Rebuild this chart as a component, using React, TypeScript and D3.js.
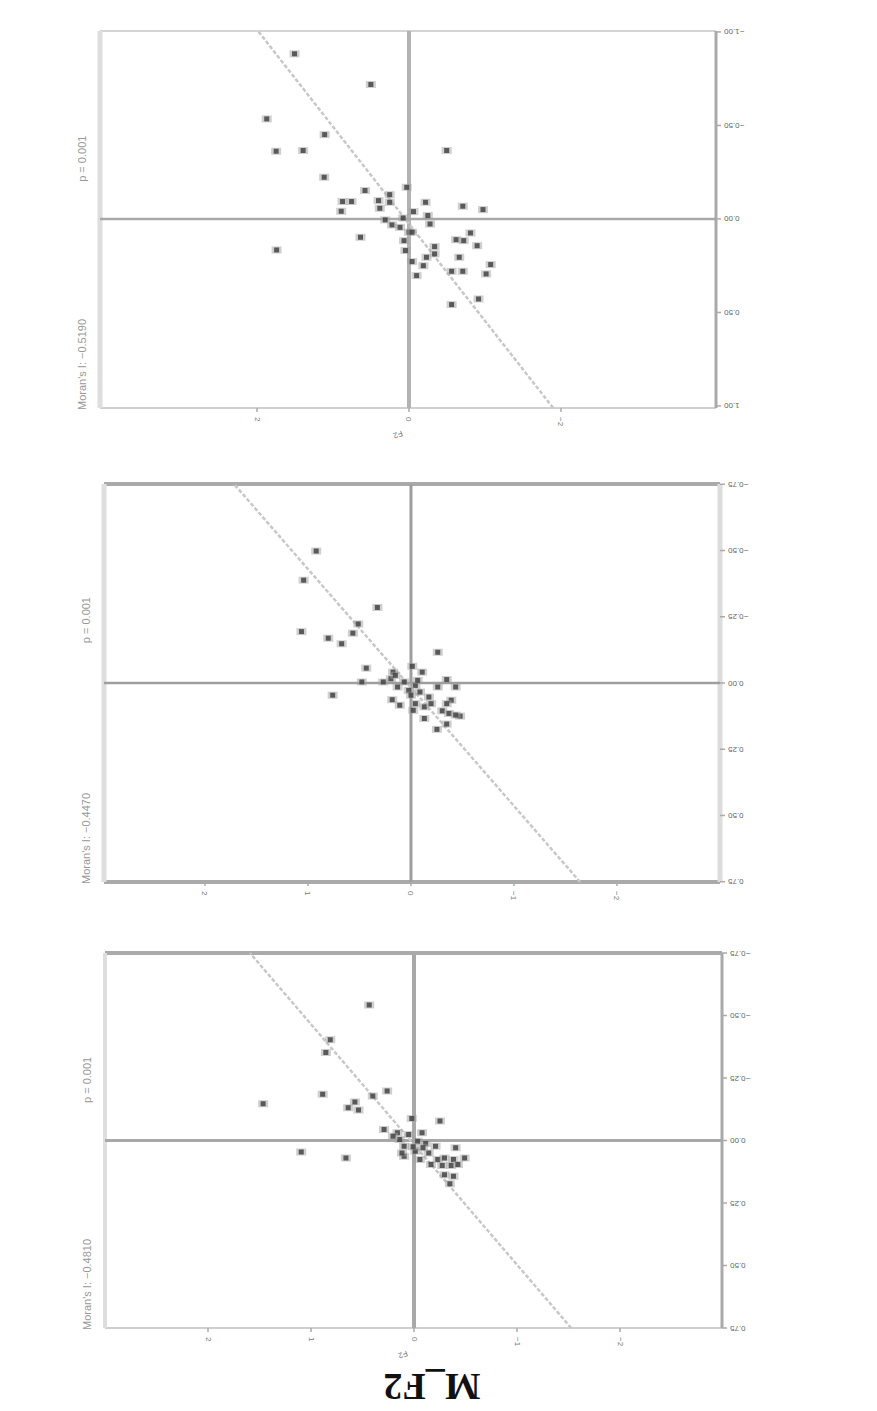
import React from 'react';
import * as d3 from 'd3';

const W = 877;
const H = 1411;

// chart title (the whole figure is printed upside down)
const title = 'M_F2';
const xAxisName = 'F2';

// panel 1: standardized value (x) and spatial lag (y)
const p1X = [1.506, 0.502, 1.872, 1.11, 1.748, 1.393, -0.496, 1.116, 0.579, 0.03, 0.254, 0.874, 0.756, 0.892, 0.401, 0.254, 0.384, -0.218, -0.708, -0.974, -0.059, -0.248, 0.077, 0.313, 0.224, 0.118, -0.277, 0.0, -0.041, 0.638, 0.065, -0.62, -0.809, 1.742, 0.047, -0.337, -0.897, -0.661, -0.23, -1.075, -0.041, -0.561, -0.708, -1.015, -0.1, -0.561, -0.915, -0.72, -0.189, -0.337];
const p1Y = [-0.883, -0.719, -0.535, -0.451, -0.362, -0.366, -0.366, -0.223, -0.152, -0.169, -0.13, -0.093, -0.093, -0.041, -0.098, -0.089, -0.057, -0.089, -0.068, -0.05, -0.039, -0.018, -0.005, 0.005, 0.032, 0.045, 0.027, 0.071, 0.071, 0.098, 0.116, 0.111, 0.075, 0.166, 0.169, 0.148, 0.143, 0.205, 0.205, 0.244, 0.228, 0.28, 0.28, 0.294, 0.303, 0.458, 0.428, 0.116, 0.25, 0.187];

// panel 2
const p2X = [0.92, 1.042, 0.326, 0.512, 0.564, 1.063, 0.803, 0.673, -0.26, 0.434, -0.013, 0.174, -0.109, 0.477, 0.269, 0.195, 0.065, -0.043, -0.347, -0.434, -0.26, 0.76, 0.022, -0.087, -0.174, 0.182, -0.043, 0.109, -0.13, -0.391, -0.304, -0.369, -0.477, -0.13, -0.347, -0.252, 0.13, 0.0, -0.195, -0.347, -0.022, 0.152, -0.065, -0.434];
const p2Y = [-0.498, -0.388, -0.285, -0.223, -0.188, -0.194, -0.169, -0.148, -0.116, -0.056, -0.063, -0.041, -0.041, -0.004, -0.004, -0.016, -0.004, 0.009, -0.013, 0.015, 0.015, 0.046, 0.028, 0.034, 0.053, 0.063, 0.078, 0.084, 0.09, 0.065, 0.105, 0.115, 0.125, 0.134, 0.155, 0.175, 0.015, 0.046, 0.078, 0.078, 0.103, -0.029, -0.01, 0.121];

// panel 3
const p3X = [0.435, 0.813, 0.856, 0.261, 0.887, 0.4, 0.574, 1.465, 0.639, 0.539, -0.252, 0.022, 0.291, 0.161, 0.052, -0.078, 0.139, -0.035, -0.113, 0.096, 1.095, -0.404, -0.491, 0.661, -0.013, -0.143, 0.096, -0.23, -0.296, -0.383, -0.165, -0.274, -0.361, -0.426, -0.296, -0.383, -0.348, -0.087, 0.009, -0.209, 0.204, 0.117, -0.057];
const p3Y = [-0.542, -0.403, -0.352, -0.198, -0.185, -0.178, -0.154, -0.147, -0.131, -0.122, -0.078, -0.088, -0.044, -0.031, -0.024, -0.031, -0.004, 0.003, 0.012, 0.023, 0.046, 0.029, 0.07, 0.07, 0.043, 0.05, 0.063, 0.076, 0.07, 0.076, 0.096, 0.1, 0.1, 0.096, 0.137, 0.143, 0.173, 0.029, 0.025, 0.023, -0.017, 0.05, 0.076];

// fitted line: slope (Moran's I) and intercept
const moransI = [-0.519, -0.447, -0.481];
const intercepts = [0.026, 0.017, 0.016];
const pValues = ['p = 0.001', 'p = 0.001', 'p = 0.001'];

const xDomains = [[-4.04, 4.066], [-3.0, 2.98], [-2.99, 3.0]];
const yDomains = [[-1.005, 1.011], [-0.751, 0.751], [-0.75, 0.75]];
const xTicks = [[-2, 0, 2], [-2, -1, 0, 1, 2], [-2, -1, 0, 1, 2]];
const yTicks = [
  [-1, -0.5, 0, 0.5, 1],
  [-0.75, -0.5, -0.25, 0, 0.25, 0.5, 0.75],
  [-0.75, -0.5, -0.25, 0, 0.25, 0.5, 0.75],
];

// frame of each panel and the way its borders are drawn
const frames = [
  { l: 100, r: 716, t: 31, b: 408, top: ['#d4d4d4', 2], bottom: ['#d0d0d0', 2], left: ['#dedede', 5], right: ['#aaaaaa', 3], cx: ['#b2b2b2', 4], cy: ['#a8a8a8', 2.5], axisName: true },
  { l: 104, r: 720, t: 484, b: 882, top: ['#aaaaaa', 4], bottom: ['#aaaaaa', 4], left: ['#dedede', 5], right: ['#dcdcdc', 5], cx: ['#9e9e9e', 3], cy: ['#9e9e9e', 2.5], axisName: false },
  { l: 105, r: 722, t: 953, b: 1328, top: ['#aaaaaa', 4], bottom: ['#cfcfcf', 2], left: ['#dedede', 4], right: ['#aaaaaa', 3], cx: ['#a8a8a8', 4], cy: ['#a8a8a8', 3], axisName: true },
];

const fmt2 = d3.format('.2f');
const fmt0 = d3.format('.0f');

function Panel({ i, xs, ys }: { i: number; xs: number[]; ys: number[] }) {
  const f = frames[i];
  const x = d3.scaleLinear().domain(xDomains[i]).range([f.r, f.l]);
  const y = d3.scaleLinear().domain(yDomains[i]).range([f.t, f.b]);
  const I = moransI[i];
  const a = intercepts[i];
  const [x0, x1] = xDomains[i];
  const [y0, y1] = yDomains[i];
  const xa = Math.max(x0, (y1 - a) / I);
  const xb = Math.min(x1, (y0 - a) / I);
  const pts = xs.map((v, k) => ({ x: v, y: ys[k] }));
  const labX = f.l - 14;
  const topLabY = f.t + (f.b - f.t) * 0.4;
  return (
    <g>
      {/* borders */}
      <line x1={f.l} x2={f.r} y1={f.t} y2={f.t} stroke={f.top[0] as string} strokeWidth={f.top[1] as number} />
      <line x1={f.l} x2={f.r} y1={f.b} y2={f.b} stroke={f.bottom[0] as string} strokeWidth={f.bottom[1] as number} />
      <line x1={f.l} x2={f.l} y1={f.t} y2={f.b} stroke={f.left[0] as string} strokeWidth={f.left[1] as number} />
      <line x1={f.r} x2={f.r} y1={f.t} y2={f.b} stroke={f.right[0] as string} strokeWidth={f.right[1] as number} />
      {/* zero lines */}
      <line x1={x(0)} x2={x(0)} y1={f.t} y2={f.b} stroke={f.cx[0] as string} strokeWidth={f.cx[1] as number} />
      <line x1={f.l} x2={f.r} y1={y(0)} y2={y(0)} stroke={f.cy[0] as string} strokeWidth={f.cy[1] as number} />
      {/* regression line */}
      <line x1={x(xa)} y1={y(a + I * xa)} x2={x(xb)} y2={y(a + I * xb)} stroke="#c8c8c8" strokeWidth={2.5} strokeDasharray="4,2" />
      {/* points */}
      {pts.map((p, k) => (
        <g key={k}>
          <rect x={x(p.x) - 5} y={y(p.y) - 3.5} width={10} height={7} fill="#a0a0a0" opacity={0.5} />
          <rect x={x(p.x) - 2.5} y={y(p.y) - 2.5} width={5} height={5} fill="#444" opacity={0.85} />
        </g>
      ))}
      {/* y ticks on the right */}
      {yTicks[i].map((t) => (
        <g key={'y' + t}>
          <line x1={f.r} x2={f.r + 5} y1={y(t)} y2={y(t)} stroke="#aaa" strokeWidth={1.5} />
          <text x={f.r + 8} y={y(t)} fontSize={8} fill="#666" fontFamily="Arial, sans-serif" textAnchor="end" dominantBaseline="central" transform={`rotate(180, ${f.r + 8}, ${y(t)})`}>
            {fmt2(t)}
          </text>
        </g>
      ))}
      {/* x ticks below */}
      {xTicks[i].map((t) => (
        <g key={'x' + t}>
          <line x1={x(t)} x2={x(t)} y1={f.b} y2={f.b + 4} stroke="#aaa" strokeWidth={1.5} />
          <text x={x(t)} y={f.b + 9} fontSize={8} fill="#777" fontFamily="Arial, sans-serif" textAnchor="start" dominantBaseline="central" transform={`rotate(90, ${x(t)}, ${f.b + 9})`}>
            {fmt0(t)}
          </text>
        </g>
      ))}
      {f.axisName && (
        <text x={x(0) - 12} y={f.b + 24} fontSize={8} fill="#777" fontFamily="Arial, sans-serif" textAnchor="middle" transform={`rotate(160, ${x(0) - 12}, ${f.b + 24})`}>
          {xAxisName}
        </text>
      )}
      {/* Moran's I label, vertical on the left */}
      <text x={labX} y={f.b + 2} fontSize={11} fill="#999" fontFamily="Arial, sans-serif" textAnchor="start" transform={`rotate(-90, ${labX}, ${f.b + 2})`}>
        {`Moran's I: ${d3.format('.4f')(I)}`}
      </text>
      <text x={labX} y={topLabY} fontSize={11} fill="#999" fontFamily="Arial, sans-serif" textAnchor="start" transform={`rotate(-90, ${labX}, ${topLabY})`}>
        {pValues[i]}
      </text>
    </g>
  );
}

export default function App() {
  return (
    <svg width={W} height={H} style={{ position: 'absolute', left: 0, top: 0, background: '#fff' }}>
      <rect width={W} height={H} fill="#fff" />
      <Panel i={0} xs={p1X} ys={p1Y} />
      <Panel i={1} xs={p2X} ys={p2Y} />
      <Panel i={2} xs={p3X} ys={p3Y} />
      <text x={432} y={1374} fontSize={38} fontWeight="bold" fontFamily="'Liberation Serif', 'Times New Roman', serif" textAnchor="middle" fill="#111" transform="rotate(180, 432, 1374)">
        {title}
      </text>
    </svg>
  );
}
